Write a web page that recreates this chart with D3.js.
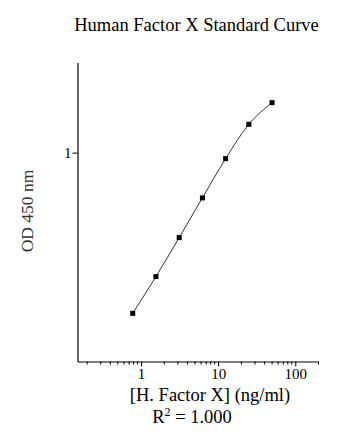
<!DOCTYPE html>
<html>
<head>
<meta charset="utf-8">
<script src="https://cdn.jsdelivr.net/npm/d3@7"></script>
<style>
  html, body { margin: 0; padding: 0; background: #fff; }
  svg { display: block; }
  svg text { font-family: "Liberation Serif", "Times New Roman", serif; }
</style>
</head>
<body>
<svg id="chart" width="360" height="444"></svg>
<script>
// Data
const concentrations = [0.78, 1.56, 3.125, 6.25, 12.5, 25, 50];
const odValues = [0.170, 0.255, 0.392, 0.607, 0.936, 1.366, 1.735];
const xMajorTicks = [1, 10, 100];
const yMajorTicks = [1];
const titleText = "Human Factor X Standard Curve";
const xTitle = "[H. Factor X] (ng/ml)";
const yTitle = "OD 450 nm";

(function () {
const svg = d3.select("#chart");
const mLeft = 77.5, mRight = 318.5, mTop = 62.5, mBottom = 361.5;
const serif = "'Liberation Serif', 'Times New Roman', serif";

const x = d3.scaleLog().domain([0.15, 200]).range([mLeft, mRight]);
const y = d3.scaleLog().domain([0.1, 2.7]).range([mBottom, mTop]);

// minor ticks
const minor = [];
for (let e = -1; e <= 2; e++) {
  for (let m = 2; m <= 9; m++) {
    const v = m * Math.pow(10, e);
    if (v >= 0.15 && v <= 200.0001) minor.push(v);
  }
}

// X axis
const xAxis = d3.axisBottom(x).tickValues(xMajorTicks).tickFormat(d3.format("d")).tickSize(5).tickSizeOuter(0);
const gx = svg.append("g").attr("transform", `translate(0,${mBottom})`).call(xAxis);
gx.attr("font-family", serif);
gx.select(".domain").attr("stroke", "#000").attr("stroke-width", 1.2);
gx.selectAll(".tick line").attr("stroke", "#000");
gx.selectAll(".tick text").attr("font-size", 15).attr("fill", "#000").attr("y", 7).attr("dy", "0.71em");
gx.selectAll(".minor").data(minor).enter().append("line")
  .attr("x1", d => x(d)).attr("x2", d => x(d)).attr("y1", 0).attr("y2", 3)
  .attr("stroke", "#000");

// Y axis
const yAxis = d3.axisLeft(y).tickValues(yMajorTicks).tickFormat(d3.format("d")).tickSize(5).tickSizeOuter(0);
const gy = svg.append("g").attr("transform", `translate(${mLeft},0)`).call(yAxis);
gy.attr("font-family", serif);
gy.select(".domain").attr("stroke", "#000").attr("stroke-width", 1.2);
gy.selectAll(".tick line").attr("stroke", "#000");
gy.selectAll(".tick text").attr("font-size", 15).attr("fill", "#000").attr("x", -6);

// Curve
const pts = concentrations.map((c, i) => [c, odValues[i]]);
const line = d3.line().x(d => x(d[0])).y(d => y(d[1])).curve(d3.curveMonotoneX);
svg.append("path").datum(pts).attr("d", line)
  .attr("fill", "none").attr("stroke", "#333").attr("stroke-width", 1);

// Markers
svg.selectAll(".pt").data(pts).enter().append("rect")
  .attr("x", d => x(d[0]) - 2.5).attr("y", d => y(d[1]) - 2.5)
  .attr("width", 5).attr("height", 5).attr("fill", "#000");

// Title
svg.append("text").attr("x", 196.5).attr("y", 31).attr("text-anchor", "middle")
  .attr("font-size", 18.5).attr("fill", "#000").text(titleText);

// X title
svg.append("text").attr("x", 210).attr("y", 401).attr("text-anchor", "middle")
  .attr("font-size", 18.5).attr("fill", "#000").text(xTitle);

// R^2
const r = svg.append("text").attr("x", 192).attr("y", 423).attr("text-anchor", "middle")
  .attr("font-size", 18.5).attr("fill", "#000");
r.append("tspan").text("R");
r.append("tspan").attr("dy", -7).attr("font-size", 12).text("2");
r.append("tspan").attr("dy", 7).text(" = 1.000");

// Y title
svg.append("text").attr("transform", "translate(33,211) rotate(-90)").attr("text-anchor", "middle")
  .attr("font-size", 17.5).attr("fill", "#333").text(yTitle);
})();
</script>
</body>
</html>
